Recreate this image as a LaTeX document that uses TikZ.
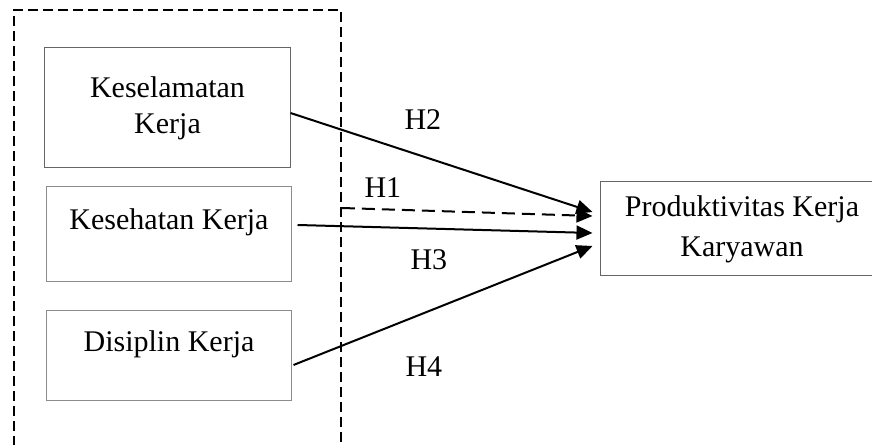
\documentclass[tikz,border=0pt]{standalone}
\usepackage{fontspec}
\setmainfont{Liberation Serif}
\usepackage{tikz}
\usetikzlibrary{arrows.meta}
\usetikzlibrary{positioning, calc}

\begin{document}
\begin{tikzpicture}[
    x=0.4pt, y=0.4pt,
    box/.style={draw=black!60, line width=0.4pt, font=\fontsize{12}{14.4}\selectfont, align=center, inner sep=0pt},
    onebox/.style={box, draw=black!45, minimum width=97.6pt, text height=8pt, text depth=11.6pt},
    frame/.style={draw, dash pattern=on 4pt off 2pt, line width=0.7pt, minimum width=130.8pt, minimum height=180pt, inner sep=0pt},
    link/.style={line width=0.8pt, -{Triangle[length=6.4pt, width=5.6pt]}},
    hyp/.style={font=\fontsize{12}{14.4}\selectfont, inner sep=0pt}
]
    \useasboundingbox (0, 0) rectangle (872, 445);

    \draw  node[frame] (frame) at (177.5, 210) {};
    \draw  (frame) ++(-10, 127) node[box, minimum width=98pt, minimum height=48pt] (kesel) {Keselamatan\\ Kerja};
    \draw  (kesel) ++(1.5, -126.5) node[onebox, minimum height=38pt] (keseh) {Kesehatan Kerja};
    \draw  (keseh) ++(0, -121.5) node[onebox, minimum height=36pt] (disip) {Disiplin Kerja};

    \draw  (frame) ++(564.5, 6) node[box, minimum width=113.6pt, minimum height=37.6pt] (prod) {Produktivitas Kerja\\[1.6pt] Karyawan};

    % Hypothesis arrows:
    \draw[link] ($(kesel.east) + (0, -5)$) -- ($(prod.west) + (-7, 17)$);
    \draw[link, dash pattern=on 5.2pt off 2.8pt] ($(frame.east) + (0, 27)$) -- ($(prod.west) + (-7, 13)$);
    \draw[link] ($(keseh.east) + (6, 9.5)$) -- ($(prod.west) + (-7, -4)$);
    \draw[link] ($(disip.east) + (2, -9)$) -- ($(prod.west) + (-7, -17)$);

    \draw  (frame.east) ++(81, 115) node[hyp] (h2) {H2};
    \draw  (frame.east) ++(41, 47) node[hyp] (h1) {H1};
    \draw  (frame.east) ++(87, -25) node[hyp] (h3) {H3};
    \draw  (frame.east) ++(82, -132) node[hyp] (h4) {H4};

\end{tikzpicture}
\end{document}
